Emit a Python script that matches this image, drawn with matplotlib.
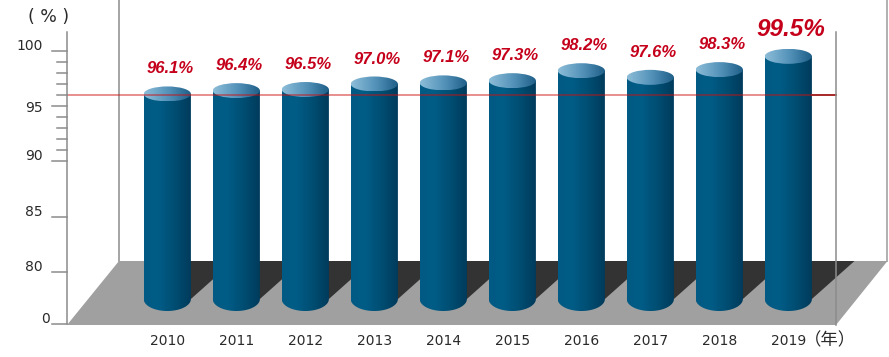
import numpy as np
import matplotlib
matplotlib.use("Agg")
import matplotlib.pyplot as plt
from matplotlib.patches import Polygon, Ellipse, PathPatch
from matplotlib.path import Path
from matplotlib.colors import LinearSegmentedColormap

# ---------------- data ----------------
years = ["2010", "2011", "2012", "2013", "2014", "2015", "2016", "2017", "2018", "2019"]
values = [96.1, 96.4, 96.5, 97.0, 97.1, 97.3, 98.2, 97.6, 98.3, 99.5]
value_labels = ["96.1%", "96.4%", "96.5%", "97.0%", "97.1%", "97.3%", "98.2%", "97.6%", "98.3%", "99.5%"]
major_ticks = [80, 85, 90, 95, 100]
minor_ticks = [91, 92, 93, 94, 96, 97, 98, 99]
reference_value = 96.0
unit_y = "( % )"
unit_x = "（年）"

# ---------------- layout (pixel geometry -> data) ----------------
W, H = 889, 357
X0, SX = 167.3, 69.0      # px of first category, px per category
Y100, SY = 50.8, 11.06    # px of value 100, px per value unit


def px_x(p):
    return (p - X0) / SX


def px_y(p):
    return 100 - (p - Y100) / SY


fig = plt.figure(figsize=(W / 100, H / 100), dpi=100)
ax = fig.add_axes([0, 0, 1, 1])
ax.set_xlim(px_x(0), px_x(W))
ax.set_ylim(px_y(H), px_y(0))
ax.axis("off")

font_jp = ["Noto Sans CJK JP", "DejaVu Sans"]
font_num = "DejaVu Sans"
text_col = "#2a2a2a"
gray_line = "#8c8c8c"

x_front_l, x_back_l = px_x(67), px_x(119)
x_front_r, x_back_r = px_x(836), px_x(887.5)
y_front, y_back = px_y(325), px_y(261)
y_axis_top = px_y(32)
zero_pos = px_y(324)

# back wall lines
ax.plot([x_back_l, x_back_l], [y_back, px_y(0)], color=gray_line, lw=1.1, zorder=0.5)
ax.plot([x_back_r, x_back_r], [y_back, px_y(0)], color="#b0b0b0", lw=1.4, zorder=0.5)

# floor
floor = Polygon([(x_front_l, y_front), (x_front_r, y_front), (x_back_r, y_back), (x_back_l, y_back)],
                closed=True, facecolor="#a0a0a0", edgecolor="none", zorder=1)
ax.add_patch(floor)

# cylinders
x = np.arange(len(years))
hw = 23.6 / SX
top_h = 7.5 / SY
bot_h = 12.0 / SY
y_base = px_y(299)
shadow_dx = 42.6 / SX

body_cmap = LinearSegmentedColormap.from_list(
    "body", [(0.0, "#005a84"), (0.3, "#005c86"), (0.65, "#004d72"), (1.0, "#003a5a")])
top_cmap = LinearSegmentedColormap.from_list(
    "top", [(0.0, "#8dbdd8"), (0.5, "#5593ba"), (1.0, "#1c5d86")])
grad = np.linspace(0, 1, 256).reshape(1, -1)

for xi, v in zip(x, values):
    xl, xr = xi - hw, xi + hw
    # shadow cast to the back-right
    shadow = Polygon([(xl, y_base), (xr, y_base), (xr + shadow_dx, y_back), (xl + shadow_dx, y_back)],
                     closed=True, facecolor="#333333", edgecolor="none", zorder=2)
    ax.add_patch(shadow)

    # body: rectangle + lower half of bottom ellipse
    t = np.linspace(np.pi, 2 * np.pi, 60)
    lower = [(xi + hw * np.cos(a), y_base + bot_h * np.sin(a)) for a in t]
    verts = [(xl, v)] + lower + [(xr, v), (xl, v)]
    body_path = Path(verts)
    body_patch = PathPatch(body_path, facecolor="none", edgecolor="none", zorder=3)
    ax.add_patch(body_patch)
    im = ax.imshow(grad, cmap=body_cmap, extent=[xl, xr, y_base - bot_h, v],
                   aspect="auto", interpolation="bilinear", zorder=3)
    im.set_clip_path(body_patch)

    # top ellipse
    top = Ellipse((xi, v), 2 * hw, 2 * top_h, facecolor="none", edgecolor="none", zorder=3.5)
    ax.add_patch(top)
    im2 = ax.imshow(grad, cmap=top_cmap, extent=[xl, xr, v - top_h, v + top_h],
                    aspect="auto", interpolation="bilinear", zorder=3.5)
    im2.set_clip_path(top)

# value labels
for xi, v, lab in zip(x, values, value_labels):
    big = (v == max(values))
    ax.text(xi + 0.04, v + 1.85, lab, ha="center", va="baseline",
            fontsize=17.5 if big else 12, fontweight="bold", fontstyle="italic",
            family="Liberation Sans", color="#c5001a", zorder=6)

# reference line
ax.plot([x_front_l, x_front_r], [reference_value, reference_value],
        color="#cc1010", alpha=0.55, lw=1.2, zorder=4)
ax.plot([x[-1] + hw, x_front_r], [reference_value, reference_value],
        color="#9e1a1a", lw=1.2, zorder=4)

# front lines
ax.plot([x_front_l, x_front_l], [zero_pos, y_axis_top], color=gray_line, lw=1.1, zorder=5)
ax.plot([x_front_r, x_front_r], [y_front, y_axis_top], color=gray_line, lw=1.1, zorder=5)

# ticks
maj_len = 15 / SX
min_len = 10 / SX
for tv in major_ticks:
    ax.plot([x_front_l - maj_len, x_front_l], [tv, tv], color=gray_line, lw=1.1, zorder=5)
for tv in minor_ticks:
    ax.plot([x_front_l - min_len, x_front_l], [tv, tv], color=gray_line, lw=1.1, zorder=5)
ax.plot([x_front_l - maj_len, x_front_l], [zero_pos, zero_pos], color=gray_line, lw=1.1, zorder=5)

lab_x = px_x(43)
for tv in major_ticks:
    ax.text(lab_x, tv if tv == 95 else tv + 0.1, str(tv), ha="right",
            va="center_baseline" if tv == 95 else "baseline",
            fontsize=10, family=font_num, color=text_col)
ax.text(px_x(49.5), zero_pos + 0.1, "0", ha="right", va="baseline",
        fontsize=10, family=font_num, color=text_col)
ax.text(px_x(49), px_y(17), unit_y, ha="center", va="center",
        fontsize=12.5, family=font_num, color=text_col)

# category labels
for xi, yr in zip(x, years):
    ax.text(xi, px_y(341), yr, ha="center", va="center", fontsize=10,
            family=font_num, color=text_col)
ax.text(x[-1] + px_x(830) - px_x(788.5), px_y(340), unit_x, ha="center", va="center",
        fontsize=12.5, family=font_jp, color=text_col)

fig.savefig("out.png", dpi=100)
